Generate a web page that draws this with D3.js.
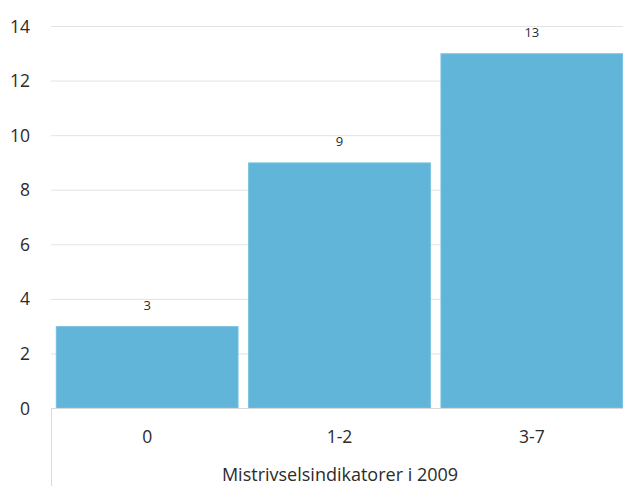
<!DOCTYPE html>
<html><head><meta charset="utf-8">
<script src="https://cdn.jsdelivr.net/npm/d3@7"></script>
<style>html,body{margin:0;padding:0;background:#fff;}svg{display:block;}</style>
</head><body>
<svg id="c" width="623" height="486"></svg>
<script>
const categories = ["0", "1-2", "3-7"];
const values = [3, 9, 13];
const yTicks = [0, 2, 4, 6, 8, 10, 12, 14];
const axisTitle = "Mistrivselsindikatorer i 2009";

(function () {
const svg = d3.select("#c");
const font = "'Open Sans', 'Noto Sans', sans-serif";
const mLeft = 51, mRight = 628, mTop = 26, mBottom = 408;
const txt = "#2b2b2b";

const x = d3.scaleBand().domain(categories).range([mLeft, mRight]).paddingInner(0.05).paddingOuter(0.025);
const y = d3.scaleLinear().domain([0, 14]).range([mBottom, mTop]);

// gridlines
svg.append("g").selectAll("line").data(yTicks.filter(d => d > 0)).join("line")
  .attr("x1", mLeft).attr("x2", 623)
  .attr("y1", d => y(d) + 0.5).attr("y2", d => y(d) + 0.5)
  .attr("stroke", "#e3e3e3").attr("stroke-width", 1);

// y tick labels
svg.append("g").selectAll("text").data(yTicks).join("text")
  .attr("x", 30).attr("y", d => y(d) + 6.5)
  .attr("text-anchor", "end")
  .attr("font-family", font).attr("font-size", 17.5).attr("fill", txt)
  .text(d => d);

// bars
svg.append("g").selectAll("rect").data(values).join("rect")
  .attr("x", (d, i) => x(categories[i]) + 0.5)
  .attr("width", x.bandwidth() - 1)
  .attr("y", d => y(d) + 0.5)
  .attr("height", d => mBottom - y(d) - 0.5)
  .attr("fill", "#61b5d8").attr("stroke", "#74c0e0").attr("stroke-width", 1);

// value labels
svg.append("g").selectAll("text").data(values).join("text")
  .attr("x", (d, i) => x(categories[i]) + x.bandwidth() / 2)
  .attr("y", d => y(d) - 16)
  .attr("text-anchor", "middle")
  .attr("font-family", font).attr("font-size", 13).attr("fill", txt)
  .text(d => d);

// category axis lines
svg.append("line").attr("x1", mLeft).attr("x2", 623).attr("y1", mBottom + 0.5).attr("y2", mBottom + 0.5)
  .attr("stroke", "#d9d9d9");
svg.append("line").attr("x1", mLeft + 0.5).attr("x2", mLeft + 0.5).attr("y1", mBottom).attr("y2", 486)
  .attr("stroke", "#d9d9d9");

// category labels
svg.append("g").selectAll("text").data(categories).join("text")
  .attr("x", d => x(d) + x.bandwidth() / 2)
  .attr("y", 443)
  .attr("text-anchor", "middle")
  .attr("font-family", font).attr("font-size", 17.5).attr("fill", txt)
  .text(d => d);

svg.append("text")
  .attr("x", 340).attr("y", 480.5)
  .attr("text-anchor", "middle")
  .attr("font-family", font).attr("font-size", 18).attr("fill", txt)
  .text(axisTitle);
})();
</script>
</body></html>
